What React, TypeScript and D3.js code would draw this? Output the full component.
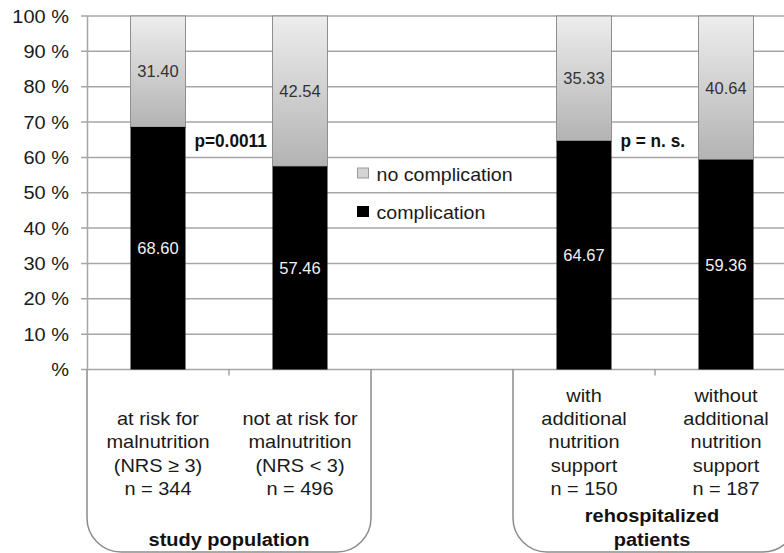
import React from "react";
import * as d3 from "d3";

const categories = ["atRisk", "notAtRisk", "gap", "withSupport", "withoutSupport"];
const complication: (number | null)[] = [68.6, 57.46, null, 64.67, 59.36];
const noComplication: (number | null)[] = [31.4, 42.54, null, 35.33, 40.64];
const categoryLabels: string[][] = [
  ["at risk for", "malnutrition", "(NRS \u2265 3)", "n = 344"],
  ["not at risk for", "malnutrition", "(NRS < 3)", "n = 496"],
  [],
  ["with", "additional", "nutrition", "support", "n = 150"],
  ["without", "additional", "nutrition", "support", "n = 187"],
];
const groupLabels: string[][] = [["study population"], ["rehospitalized", "patients"]];
const groupRanges: [number, number][] = [[0, 1], [3, 4]];
const pLabels = ["p=0.0011", "p = n. s."];
const pAfter = [0, 3];
const yTicks = [0, 10, 20, 30, 40, 50, 60, 70, 80, 90, 100];
const legendLabels = ["no complication", "complication"];

const W = 784;
const H = 553;
const FONT = "'Liberation Sans', Arial, sans-serif";

const T = ({ x, y, sx = 1, anchor = "start", size = 17, weight = "normal", fill = "#222", children }: any) => (
  <text
    transform={`translate(${x},${y}) scale(${sx},1)`}
    textAnchor={anchor}
    fontSize={size}
    fontWeight={weight}
    fill={fill}
    fontFamily={FONT}
  >
    {children}
  </text>
);

export default function App() {
  const x = d3.scaleBand<string>().domain(categories).range([87, 797]).padding(0);
  const y = d3.scaleLinear().domain([0, 100]).range([369.5, 16]);
  const barW = 55;
  const axisY = y(0);
  const gridColor = "#a6a6a6";
  const lineColor = "#8c8c8c";
  const lineH = 23.3;
  const lastLineBase = 495;

  const bracket = (x0: number, x1: number) => {
    const r = 34;
    const bot = 552;
    return `M${x0},${axisY} L${x0},${bot - r} A${r},${r} 0 0 0 ${x0 + r},${bot} L${x1 - r},${bot} A${r},${r} 0 0 0 ${x1},${bot - r} L${x1},${axisY}`;
  };

  return (
    <svg width={W} height={H} style={{ position: "absolute", left: 0, top: 0, background: "#fff" }}>
      <defs>
        <linearGradient id="grayGrad" x1="0" y1="0" x2="0" y2="1">
          <stop offset="0" stopColor="#ededed" />
          <stop offset="1" stopColor="#b3b3b3" />
        </linearGradient>
      </defs>
      <rect x={0} y={0} width={W} height={H} fill="#fff" />
      {yTicks.map((t) => (
        <line key={t} x1={81} x2={W} y1={y(t)} y2={y(t)} stroke={gridColor} strokeWidth={1.5} />
      ))}
      <line x1={87.5} x2={87.5} y1={y(100)} y2={axisY} stroke={gridColor} strokeWidth={1.5} />
      {yTicks.map((t) => (
        <T key={t} x={69} y={y(t) + 6.5} anchor="end" sx={1.08} size={18.5} fill="#1a1a1a">
          {t === 0 ? "%" : `${t} %`}
        </T>
      ))}
      {[1, 4].map((i) => {
        const cx = x(categories[i])!;
        return <line key={i} x1={cx} x2={cx} y1={axisY} y2={axisY + 6} stroke={lineColor} strokeWidth={1.2} />;
      })}
      {groupRanges.map(([a, b], gi) => {
        const x0 = x(categories[a])!;
        const x1 = x(categories[b])! + x.bandwidth();
        return <path key={gi} d={bracket(x0, x1)} fill="none" stroke={lineColor} strokeWidth={1.5} />;
      })}
      {categories.map((c, i) => {
        const comp = complication[i];
        const noc = noComplication[i];
        if (comp == null || noc == null) return null;
        const cx = x(c)! + x.bandwidth() / 2;
        const bx = cx - barW / 2;
        const yComp = y(comp);
        const yTop = y(comp + noc);
        return (
          <g key={c}>
            <rect x={bx} y={yTop} width={barW} height={yComp - yTop} fill="url(#grayGrad)" stroke="#8f8f8f" strokeWidth={1} />
            <rect x={bx} y={yComp} width={barW} height={axisY - yComp} fill="#000" />
            <T x={cx} y={(yTop + yComp) / 2 + 6} anchor="middle" size={16.5} fill="#333">
              {noc.toFixed(2)}
            </T>
            <T x={cx} y={(yComp + axisY) / 2 + 6} anchor="middle" size={16.5} fill="#f2f2f2">
              {comp.toFixed(2)}
            </T>
          </g>
        );
      })}
      {pLabels.map((p, i) => {
        const c = categories[pAfter[i]];
        const px = x(c)! + x.bandwidth() / 2 + barW / 2 + 9;
        return (
          <T key={p} x={px} y={146.5} sx={0.93} size={18.5} weight="bold" fill="#111">
            {p}
          </T>
        );
      })}
      {legendLabels.map((l, i) => {
        const ly = 168 + i * 38.5;
        return (
          <g key={l}>
            <rect x={357.5} y={ly} width={11} height={10} fill={i === 0 ? "#d4d4d4" : "#000"} stroke={i === 0 ? "#999" : "#000"} strokeWidth={1} />
            <T x={376.5} y={ly + 12.5} sx={1.06} size={18.5} fill="#1a1a1a">
              {l}
            </T>
          </g>
        );
      })}
      {categories.map((c, i) => {
        const lines = categoryLabels[i];
        const cx = x(c)! + x.bandwidth() / 2;
        return lines.map((ln, j) => (
          <T key={c + j} x={cx} y={lastLineBase - (lines.length - 1 - j) * lineH} anchor="middle" sx={1.05} size={19} fill="#1a1a1a">
            {ln}
          </T>
        ));
      })}
      {groupRanges.map(([a, b], gi) => {
        const x0 = x(categories[a])!;
        const x1 = x(categories[b])! + x.bandwidth();
        const cx = gi === 0 ? (x0 + x1) / 2 : (x0 + x1) / 2 - 3;
        const lines = groupLabels[gi];
        return lines.map((ln, j) => (
          <T key={gi + "-" + j} x={cx} y={546 - (lines.length - 1 - j) * 24} anchor="middle" sx={1.08} size={18.5} weight="bold" fill="#111">
            {ln}
          </T>
        ));
      })}
    </svg>
  );
}
